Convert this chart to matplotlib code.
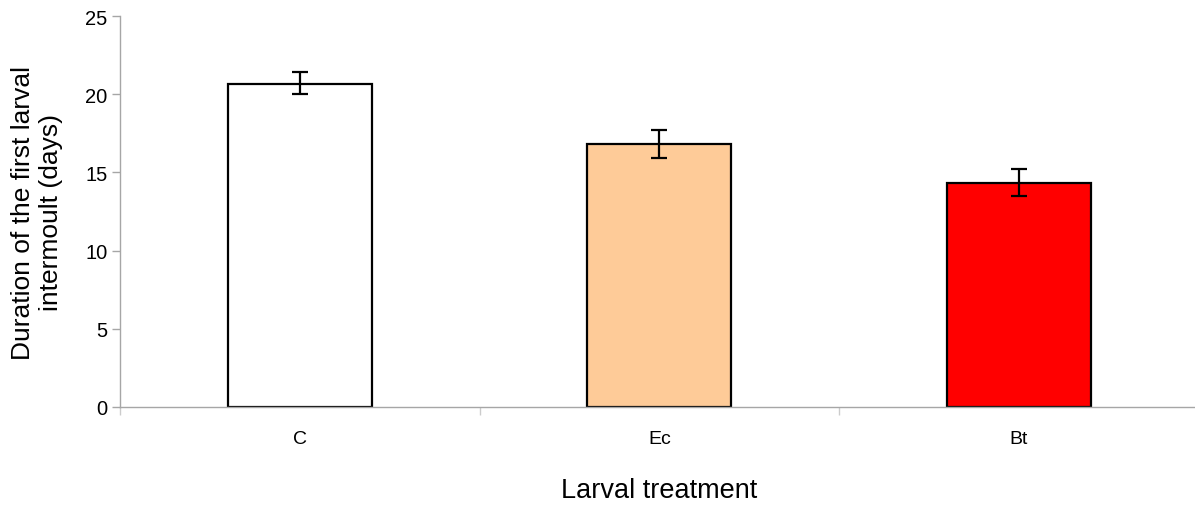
import numpy as np
import matplotlib
matplotlib.use('Agg')
import matplotlib.pyplot as plt

plt.rcParams['font.family'] = ['Liberation Sans', 'DejaVu Sans']

# data
treatments = ['C', 'Ec', 'Bt']
durations = [20.65, 16.85, 14.35]
err_low = [0.65, 0.9, 0.85]
err_high = [0.78, 0.85, 0.86]
colours = ['#ffffff', '#fecb98', '#ff0000']
yticks = [0, 5, 10, 15, 20, 25]

fig = plt.figure(figsize=(11.95, 5.06), dpi=100)
ax = fig.add_axes([0.1004, 0.194, 0.9026, 0.772])

x = np.arange(len(treatments))
ax.bar(x, durations, width=0.40, color=colours, edgecolor='black', linewidth=1.6, zorder=2)
ax.errorbar(x, durations, yerr=[err_low, err_high], fmt='none', ecolor='black',
            elinewidth=1.6, capsize=6, capthick=1.6, zorder=3)

ax.set_xlim(-0.5, 2.5)
ax.set_ylim(0, 25)
ax.set_yticks(yticks)
ax.set_xticks(x)
ax.set_xticklabels(treatments)
ax.set_xticks([-0.5, 0.5, 1.5, 2.5], minor=True)

for s in ['top', 'right']:
    ax.spines[s].set_visible(False)
for s in ['left', 'bottom']:
    ax.spines[s].set_color('#a6a6a6')
    ax.spines[s].set_linewidth(1.0)

ax.tick_params(axis='y', colors='#a6a6a6', length=6, width=1.0, labelcolor='black', labelsize=14.5, pad=3)
ax.tick_params(axis='x', which='major', length=0, labelsize=14, pad=17)
ax.tick_params(axis='x', which='minor', colors='#cccccc', length=6, width=1.0)

ax.set_ylabel('Duration of the first larval\nintermoult (days)', fontsize=19, labelpad=16)
ax.set_xlabel('Larval treatment', fontsize=19.5, labelpad=21)

fig.savefig('out.png', dpi=100)
